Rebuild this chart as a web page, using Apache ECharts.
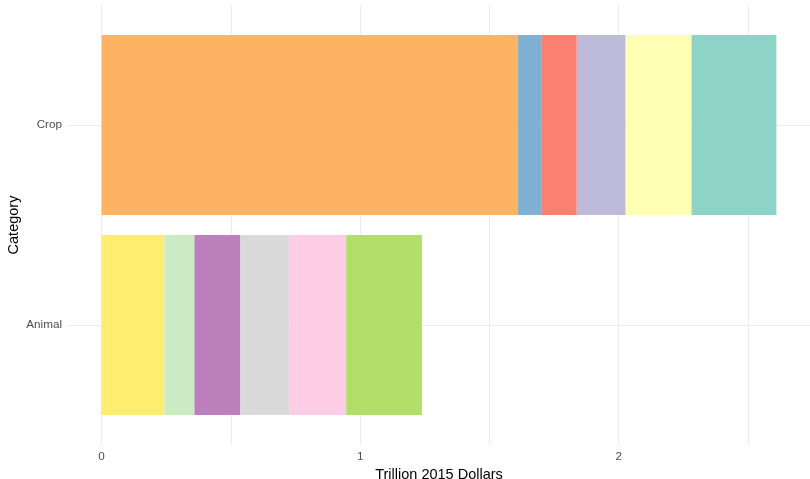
<!DOCTYPE html>
<html>
<head>
<meta charset="utf-8">
<script src="https://cdn.jsdelivr.net/npm/echarts@6/dist/echarts.min.js"></script>
<style>
  html, body { margin: 0; padding: 0; background: #fff; }
  #chart { width: 810px; height: 479px; }
</style>
</head>
<body>
<div id="chart"></div>
<script>
// categories on the y axis (bottom to top)
const categories = ['Animal', 'Crop']

// crop segments, left to right (trillion 2015 dollars)
const cropValues = [1.610, 0.093, 0.135, 0.189, 0.255, 0.328]
const cropColors = ['#FDB462', '#80B1D3', '#FB8072', '#BEBADA', '#FFFFB3', '#8DD3C7']

// animal segments, left to right
const animalValues = [0.243, 0.116, 0.178, 0.189, 0.220, 0.293]
const animalColors = ['#FFED6F', '#CCEBC5', '#BC80BD', '#D9D9D9', '#FCCDE5', '#B3DE69']

const xTicks = [0, 1, 2]
const xGrid = [0, 0.5, 1, 1.5, 2, 2.5]

const font = 'Liberation Sans, Arial, sans-serif'

const chart = echarts.init(document.getElementById('chart'))

const series = []
animalValues.forEach((v, i) => {
  series.push({
    name: 'Animal ' + (i + 1),
    type: 'bar',
    stack: 'total',
    xAxisIndex: 1,
    yAxisIndex: 1,
    barWidth: '90%',
    itemStyle: { color: animalColors[i] },
    data: [v, null]
  })
})
cropValues.forEach((v, i) => {
  series.push({
    name: 'Crop ' + (i + 1),
    type: 'bar',
    stack: 'total',
    xAxisIndex: 1,
    yAxisIndex: 1,
    barWidth: '90%',
    itemStyle: { color: cropColors[i] },
    data: [null, v]
  })
})

chart.setOption({
  animation: false,
  textStyle: { fontFamily: font },
  grid: [
    // background panel with the gridlines
    { left: 68, right: 0, top: 5, bottom: 34, outerBoundsMode: 'none', containLabel: false },
    // bars, with the discrete axis padding of ggplot
    { left: 68, right: 0, top: 25, bottom: 54, outerBoundsMode: 'none', containLabel: false }
  ],
  xAxis: [
    {
      gridIndex: 0,
      type: 'value',
      min: -0.13,
      max: 2.74,
      name: 'Trillion 2015 Dollars',
      nameLocation: 'middle',
      nameGap: 18,
      nameTextStyle: { color: '#000', fontSize: 14.5, fontFamily: font },
      axisLine: { show: false },
      axisTick: { show: false, customValues: xGrid },
      axisLabel: { customValues: xTicks, color: '#4d4d4d', fontSize: 11.7, margin: 6 },
      splitLine: { show: true, lineStyle: { color: '#ebebeb', width: 1 } }
    },
    {
      gridIndex: 1,
      type: 'value',
      min: -0.13,
      max: 2.74,
      show: false,
      splitLine: { show: false }
    }
  ],
  yAxis: [
    {
      gridIndex: 0,
      type: 'value',
      min: 0.4,
      max: 2.6,
      name: 'Category',
      nameLocation: 'middle',
      nameGap: 47,
      nameTextStyle: { color: '#000', fontSize: 14.5, fontFamily: font },
      axisLine: { show: false },
      axisTick: { show: false, customValues: [1, 2] },
      axisLabel: { show: false },
      splitLine: { show: true, lineStyle: { color: '#ebebeb', width: 1 } }
    },
    {
      gridIndex: 1,
      type: 'category',
      data: categories,
      axisLine: { show: false },
      axisTick: { show: false },
      axisLabel: { color: '#4d4d4d', fontSize: 11.7, margin: 6 },
      splitLine: { show: false }
    }
  ],
  series: series
})
</script>
</body>
</html>
